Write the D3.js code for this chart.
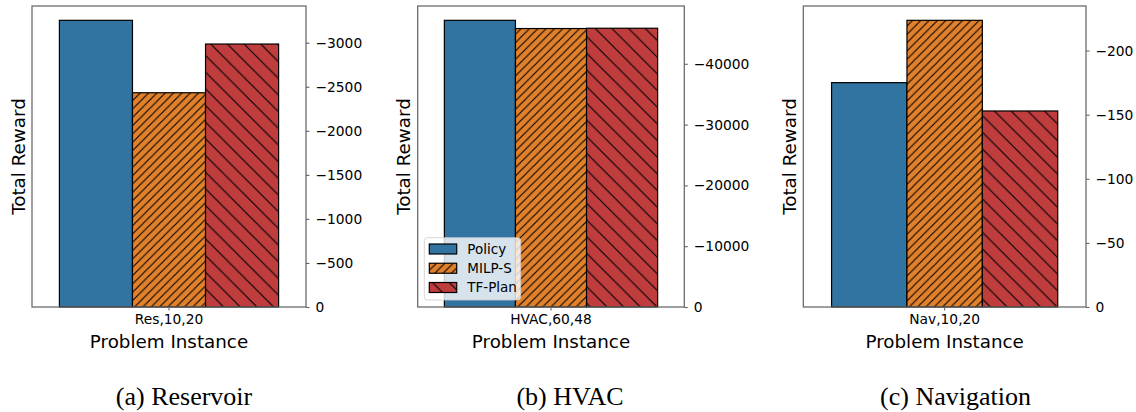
<!DOCTYPE html>
<html>
<head>
<meta charset="utf-8">
<script src="https://cdn.jsdelivr.net/npm/d3@7"></script>
<style>
  html, body { margin: 0; padding: 0; background: #fff; }
  svg { display: block; }
</style>
</head>
<body>
<svg id="chart" width="1136" height="412"></svg>
<script>
// ---------------- data ----------------
const series = ["Policy", "MILP-S", "TF-Plan"];
const instances = ["Res,10,20", "HVAC,60,48", "Nav,10,20"];
const captions = ["(a) Reservoir", "(b) HVAC", "(c) Navigation"];
const reservoirValues = [-3254, -2432, -2985];
const hvacValues = [-47150, -45800, -45850];
const navigationValues = [-175, -223.6, -152.9];
const reservoirTicks = [0, -500, -1000, -1500, -2000, -2500, -3000];
const hvacTicks = [0, -10000, -20000, -30000, -40000];
const navigationTicks = [0, -50, -100, -150, -200];

// ---------------- styles ----------------
const colors = ["#3274a1", "#e1812c", "#c03d3e"];
const hatches = [null, "ne", "se"];
const spineColor = "#666";
const font = "'DejaVu Sans', sans-serif";
const tickFont = 13.8, titleFont = 18.3, legendFont = 13.5;

// ---------------- layout ----------------
const plotTop = 6, plotBottom = 307;
const panels = [
  { left: 32, right: 306, capX: 184, values: reservoirValues, ticks: reservoirTicks, legend: false },
  { left: 417.7, right: 684.3, capX: 570, values: hvacValues, ticks: hvacTicks, legend: true },
  { left: 803.3, right: 1086, capX: 955.5, values: navigationValues, ticks: navigationTicks, legend: false }
];

const svg = d3.select("#chart");
const defs = svg.append("defs");

function addPattern(id, type, p) {
  const pat = defs.append("pattern")
    .attr("id", id).attr("patternUnits", "userSpaceOnUse")
    .attr("width", p).attr("height", p);
  let d;
  if (type === "ne") {
    d = `M0,${p} L${p},0 M${-p/2},${p/2} L${p/2},${-p/2} M${p/2},${1.5*p} L${1.5*p},${p/2}`;
  } else {
    d = `M0,0 L${p},${p} M${-p/2},${p/2} L${p/2},${1.5*p} M${p/2},${-p/2} L${1.5*p},${p/2}`;
  }
  pat.append("path").attr("d", d).attr("stroke", "#000").attr("stroke-width", 1.1).attr("fill", "none");
}
addPattern("hatch-ne", "ne", 8.33);
addPattern("hatch-se", "se", 16.67);

function drawBarRect(g, x, y, w, h, i) {
  g.append("rect").attr("x", x).attr("y", y).attr("width", w).attr("height", h)
    .attr("fill", colors[i]);
  if (hatches[i]) {
    g.append("rect").attr("x", x).attr("y", y).attr("width", w).attr("height", h)
      .attr("fill", `url(#hatch-${hatches[i]})`);
  }
  g.append("rect").attr("x", x).attr("y", y).attr("width", w).attr("height", h)
    .attr("fill", "none").attr("stroke", "#000").attr("stroke-width", 1.2);
}

panels.forEach((P, k) => {
  const W = P.right - P.left;
  const g = svg.append("g");

  const x = d3.scaleBand().domain(series)
    .range([P.left + 0.1 * W, P.right - 0.1 * W]).paddingInner(0).paddingOuter(0);
  const y = d3.scaleLinear().domain([0, d3.min(P.values) * 1.05]).range([plotBottom, plotTop]);

  // bars
  series.forEach((s, i) => {
    const v = P.values[i];
    drawBarRect(g, x(s), y(v), x.bandwidth(), y(0) - y(v), i);
  });

  // spines
  g.append("rect").attr("x", P.left).attr("y", plotTop)
    .attr("width", W).attr("height", plotBottom - plotTop)
    .attr("fill", "none").attr("stroke", spineColor).attr("stroke-width", 1.25);

  // right y axis
  const yAxis = d3.axisRight(y).tickValues(P.ticks).tickSize(3.5).tickPadding(6)
    .tickFormat(d3.format("d"));
  const ya = g.append("g").attr("transform", `translate(${P.right},0)`).call(yAxis);
  ya.select(".domain").remove();
  ya.selectAll(".tick line").attr("stroke", spineColor).attr("stroke-width", 1.1);
  ya.selectAll(".tick text").attr("font-family", font).attr("font-size", tickFont).attr("fill", "#000");

  // bottom x axis (single category)
  const xc = d3.scaleBand().domain([instances[k]]).range([P.left, P.right]);
  const xAxis = d3.axisBottom(xc).tickSize(3.5).tickPadding(3.5);
  const xa = g.append("g").attr("transform", `translate(0,${plotBottom})`).call(xAxis);
  xa.select(".domain").remove();
  xa.selectAll(".tick line").attr("stroke", spineColor).attr("stroke-width", 1.1);
  xa.selectAll(".tick text").attr("font-family", font).attr("font-size", tickFont).attr("fill", "#000");

  // axis titles
  g.append("text")
    .attr("transform", `translate(${P.left - 7.5},${(plotTop + plotBottom) / 2}) rotate(-90)`)
    .attr("text-anchor", "middle").attr("font-family", font).attr("font-size", titleFont)
    .text("Total Reward");
  g.append("text")
    .attr("x", (P.left + P.right) / 2).attr("y", 348)
    .attr("text-anchor", "middle").attr("font-family", font).attr("font-size", titleFont)
    .text("Problem Instance");

  // caption
  svg.append("text")
    .attr("x", P.capX).attr("y", 405)
    .attr("text-anchor", "middle").attr("font-family", "'Liberation Serif', 'Times New Roman', serif")
    .attr("font-size", 26)
    .text(captions[k]);

  // legend
  if (P.legend) {
    const lg = svg.append("g");
    lg.append("rect").attr("x", 424.3).attr("y", 237.7).attr("width", 96.4).attr("height", 62.3)
      .attr("rx", 3).attr("fill", "#fff").attr("fill-opacity", 0.8)
      .attr("stroke", "#ccc").attr("stroke-opacity", 0.8).attr("stroke-width", 1);
    const rowY = d3.scalePoint().domain(series).range([249, 287.5]);
    series.forEach((s, i) => {
      const cy = rowY(s);
      drawBarRect(lg, 429.3, cy - 5, 27.4, 10, i);
      lg.append("text").attr("x", 467.3).attr("y", cy).attr("dy", "0.36em")
        .attr("font-family", font).attr("font-size", legendFont).text(s);
    });
  }
});
</script>
</body>
</html>
